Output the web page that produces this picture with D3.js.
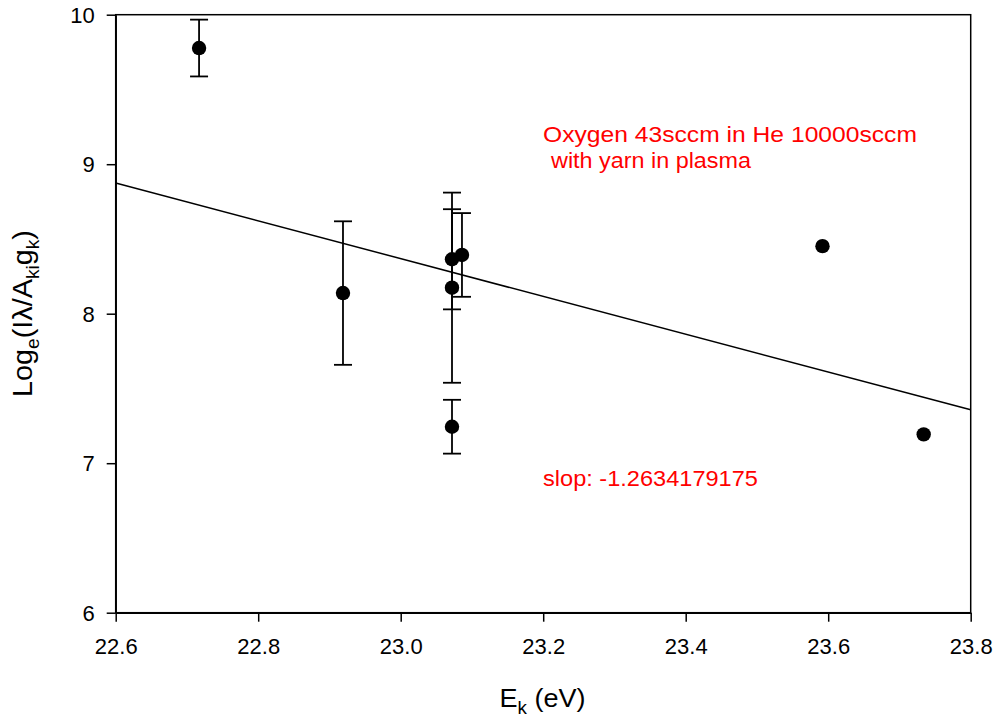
<!DOCTYPE html>
<html>
<head>
<meta charset="utf-8">
<script src="https://cdn.jsdelivr.net/npm/d3@7"></script>
<style>
  body { margin: 0; background: #fff; }
  svg { font-family: Arial, "Liberation Sans", sans-serif; }
</style>
</head>
<body>
<svg id="chart" width="998" height="719"></svg>
<script>
// measured values (Ek in eV, ln(I lambda / A g))
const ek = [22.717, 22.919, 23.072, 23.072, 23.072, 23.086, 23.592, 23.734];
const logVal = [9.777, 8.138, 8.364, 8.174, 7.244, 8.393, 8.452, 7.193];
const errVal = [0.19, 0.48, 0.335, 0.636, 0.18, 0.28, 0, 0];

const xTicks = [22.6, 22.8, 23.0, 23.2, 23.4, 23.6, 23.8];
const yTicks = [6, 7, 8, 9, 10];

// linear fit
const slope = -1.2634179175;
const intercept = 37.427;

const svg = d3.select('#chart');
const margin = { left: 115.7, right: 998 - 970.7, top: 14.7, bottom: 719 - 612.7 };
const width = 998 - margin.left - margin.right;
const height = 719 - margin.top - margin.bottom;

const x = d3.scaleLinear().domain([22.6, 23.8]).range([0, width]);
const y = d3.scaleLinear().domain([6, 10]).range([height, 0]);

const g = svg.append('g').attr('transform', `translate(${margin.left},${margin.top})`);

// frame
g.append('rect')
  .attr('width', width).attr('height', height)
  .attr('fill', 'none').attr('stroke', '#000').attr('stroke-width', 1.5);

const xAxis = g.append('g')
  .attr('transform', `translate(0,${height})`)
  .call(d3.axisBottom(x).tickValues(xTicks).tickFormat(d3.format('.1f')).tickSize(9).tickSizeOuter(0));
const yAxis = g.append('g')
  .call(d3.axisLeft(y).tickValues(yTicks).tickFormat(d3.format('d')).tickSize(9).tickSizeOuter(0));

[xAxis, yAxis].forEach(a => {
  a.select('.domain').attr('stroke-width', 1.5);
  a.selectAll('.tick line').attr('stroke-width', 1.5);
  a.selectAll('.tick text').attr('font-size', 22).attr('font-family', 'Arial, "Liberation Sans", sans-serif').attr('fill', '#000');
});
xAxis.selectAll('.tick text').attr('dy', null).attr('y', 41);
yAxis.selectAll('.tick text').attr('x', -21).attr('dy', '0.35em');

// regression line
g.append('line')
  .attr('x1', x(22.6)).attr('y1', y(slope * 22.6 + intercept))
  .attr('x2', x(23.8)).attr('y2', y(slope * 23.8 + intercept))
  .attr('stroke', '#000').attr('stroke-width', 1.5);

const pts = ek.map((v, i) => ({ ek: v, val: logVal[i], err: errVal[i] }));

// error bars
const eb = g.append('g').attr('stroke', '#000').attr('stroke-width', 1.8);
pts.filter(d => d.err > 0).forEach(d => {
  const cx = x(d.ek);
  eb.append('line').attr('x1', cx).attr('x2', cx).attr('y1', y(d.val + d.err)).attr('y2', y(d.val - d.err));
  [d.val + d.err, d.val - d.err].forEach(v => {
    eb.append('line').attr('x1', cx - 9).attr('x2', cx + 9).attr('y1', y(v)).attr('y2', y(v));
  });
});

g.append('g').selectAll('circle')
  .data(pts)
  .join('circle')
  .attr('cx', d => x(d.ek))
  .attr('cy', d => y(d.val))
  .attr('r', 7.2)
  .attr('fill', '#000');

// the original's text is a bit wider than Arial, so stretch to measured widths
function stretched(px, py, rot, target, size, anchor) {
  const t = svg.append('text').attr('font-size', size).attr('text-anchor', anchor || 'start');
  return { t, fit() {
    const w = t.node().getBBox().width;
    t.attr('transform', `translate(${px},${py}) rotate(${rot}) scale(${target / w},1)`);
  } };
}

const l1 = stretched(543, 141.7, 0, 374, 22);
l1.t.attr('fill', '#ff0000').text('Oxygen 43sccm in He 10000sccm'); l1.fit();
const l2 = stretched(551, 168, 0, 202, 22);
l2.t.attr('fill', '#ff0000').text('with yarn in plasma'); l2.fit();
const l3 = stretched(543, 485.7, 0, 215, 22);
l3.t.attr('fill', '#ff0000').text('slop: -1.2634179175'); l3.fit();

// axis titles
const xt = stretched(542.5, 706.7, 0, 86, 26, 'middle');
xt.t.append('tspan').text('E');
xt.t.append('tspan').attr('font-size', 18).attr('dy', 7).text('k');
xt.t.append('tspan').attr('dy', -7).text(' (eV)');
xt.fit();

const yt = stretched(32, 313.5, -90, 167, 27, 'middle');
yt.t.append('tspan').text('Log');
yt.t.append('tspan').attr('font-size', 18).attr('dy', 7).text('e');
yt.t.append('tspan').attr('dy', -7).text('(I\u03bb/A');
yt.t.append('tspan').attr('font-size', 18).attr('dy', 7).text('ki');
yt.t.append('tspan').attr('dy', -7).text('g');
yt.t.append('tspan').attr('font-size', 18).attr('dy', 7).text('k');
yt.t.append('tspan').attr('dy', -7).text(')');
yt.fit();
</script>
</body>
</html>
